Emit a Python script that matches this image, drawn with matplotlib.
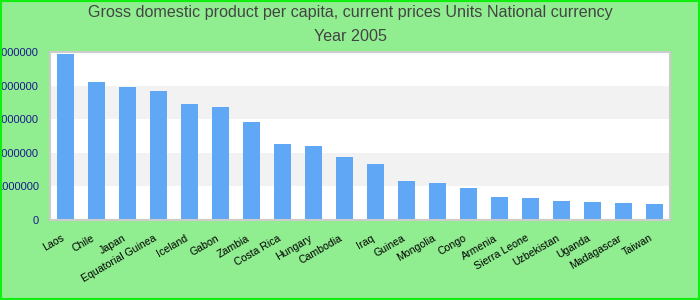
import matplotlib
matplotlib.use("Agg")
import matplotlib.pyplot as plt
from matplotlib.patches import Rectangle
from matplotlib.transforms import ScaledTranslation

countries = ["Laos", "Chile", "Japan", "Equatorial Guinea", "Iceland", "Gabon", "Zambia",
             "Costa Rica", "Hungary", "Cambodia", "Iraq", "Guinea", "Mongolia", "Congo",
             "Armenia", "Sierra Leone", "Uzbekistan", "Uganda", "Madagascar", "Taiwan"]
values = [4950000, 4110000, 3960000, 3840000, 3460000, 3370000, 2920000,
          2260000, 2200000, 1870000, 1660000, 1150000, 1090000, 940000,
          700000, 670000, 580000, 550000, 520000, 490000]
yticks = [0, 1000000, 2000000, 3000000, 4000000, 5000000]
title = "Gross domestic product per capita, current prices Units National currency\nYear 2005"

plt.rcParams['font.family'] = ['Liberation Sans', 'DejaVu Sans']

W, H = 700, 300
fig = plt.figure(figsize=(7, 3), dpi=100, facecolor='#90ee90')
ax = fig.add_axes([50 / W, (H - 220) / H, 620 / W, (220 - 51.5) / H])
ax.set_facecolor('white')

for i in range(len(yticks) - 1):
    if i % 2 == 1:
        ax.axhspan(yticks[i], yticks[i + 1], color='#f2f2f2', zorder=0, lw=0)

x = list(range(len(countries)))
ax.bar(x, values, width=0.55, color='#60a8f5', zorder=2)
ax.set_xlim(-0.5, len(countries) - 0.5)
ax.set_ylim(0, 5020000)
ax.set_yticks(yticks)
ax.set_yticklabels([str(v) for v in yticks], color='#1a1a8a', fontsize=8)
ax.set_xticks(x)
ax.set_xticklabels([])
off = ScaledTranslation(-5 / 100, -13 / 100, fig.dpi_scale_trans)
for xi, name in zip(x, countries):
    ax.text(xi, 0, name, transform=ax.get_xaxis_transform() + off,
            rotation=30, ha='right', va='top', rotation_mode='anchor',
            fontsize=7.6, color='black', clip_on=False)
ax.tick_params(axis='y', length=0, pad=8)
ax.tick_params(axis='x', length=0, pad=8)
for s in ax.spines.values():
    s.set_color('#cccccc')
    s.set_linewidth(1.5)

fig.text(0.5, 1 - 24.5 / H, title, ha='center', va='center', fontsize=11.6,
         color='#444444', linespacing=1.75)

fig.patches.append(Rectangle((0, 0), 1, 1, transform=fig.transFigure, fill=False,
                             edgecolor='#11ee11', linewidth=3, zorder=10))

fig.savefig('out.png', dpi=100, facecolor=fig.get_facecolor())
